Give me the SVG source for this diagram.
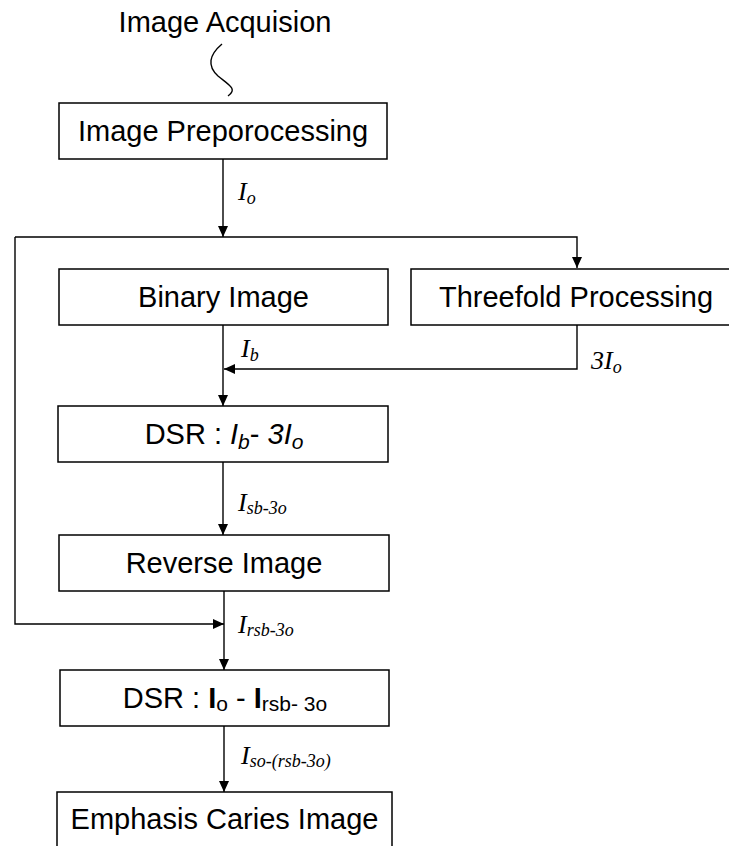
<svg xmlns="http://www.w3.org/2000/svg" width="729" height="846" viewBox="0 0 729 846">
<defs>
<style>
.box{fill:#fff;stroke:#000;stroke-width:1.5}
.t{font-family:"Liberation Sans",Arial,sans-serif;font-size:29px;fill:#000;text-anchor:middle}
.lab{font-family:"Liberation Serif","Times New Roman",serif;font-style:italic;font-size:26px;fill:#000}
.sub{font-size:18px}
.con{fill:none;stroke:#000;stroke-width:1.4}
</style>
<marker id="ah" markerUnits="userSpaceOnUse" markerWidth="11" markerHeight="10" refX="11" refY="5" orient="auto">
<path d="M0,0 L11,5 L0,10 z" fill="#000"/>
</marker>
</defs>
<rect width="729" height="846" fill="#fff"/>
<g id="acq">
<text class="t" x="225" y="32">Image Acquision</text>
<path class="con" d="M222,44 C209,55 207,66 218,76 C229,85 238,89 228,96"/>
</g>
<g id="connectors">
<path class="con" d="M223,159 V237" marker-end="url(#ah)"/>
<path class="con" d="M15,237 H577 V268" marker-end="url(#ah)"/>
<path class="con" d="M15,237 V624 H224" marker-end="url(#ah)"/>
<path class="con" d="M223,325 V406" marker-end="url(#ah)"/>
<path class="con" d="M577,325 V369 H224" marker-end="url(#ah)"/>
<path class="con" d="M223,462 V535" marker-end="url(#ah)"/>
<path class="con" d="M224,591 V670" marker-end="url(#ah)"/>
<path class="con" d="M224,726 V792" marker-end="url(#ah)"/>
<text class="lab" x="238" y="200">I<tspan class="sub" dy="4">o</tspan></text>
<text class="lab" x="241" y="357">I<tspan class="sub" dy="4">b</tspan></text>
<text class="lab" x="591" y="369">3I<tspan class="sub" dy="4">o</tspan></text>
<text class="lab" x="238" y="511">I<tspan class="sub" dy="3">sb-3o</tspan></text>
<text class="lab" x="238" y="633">I<tspan class="sub" dy="3">rsb-3o</tspan></text>
<text class="lab" x="241" y="764">I<tspan class="sub" dy="3">so-(rsb-3o)</tspan></text>
</g>
<g id="preprocessing">
<rect class="box" x="59" y="103" width="328" height="56"/>
<text class="t" x="223" y="141">Image Preporocessing</text>
</g>
<g id="binary">
<rect class="box" x="59" y="269" width="329" height="56"/>
<text class="t" x="223.5" y="307">Binary Image</text>
</g>
<g id="threefold">
<rect class="box" x="411" y="269" width="330" height="56"/>
<text class="t" x="576" y="307">Threefold Processing</text>
</g>
<g id="dsr1">
<rect class="box" x="58" y="406" width="330" height="56"/>
<text class="t" x="224" y="444">DSR : <tspan font-style="italic">I</tspan><tspan font-style="italic" font-size="21" dy="5">b</tspan><tspan dy="-5">- </tspan><tspan font-style="italic">3I</tspan><tspan font-style="italic" font-size="21" dy="5">o</tspan></text>
</g>
<g id="reverse">
<rect class="box" x="59" y="535" width="330" height="56"/>
<text class="t" x="224" y="573">Reverse Image</text>
</g>
<g id="dsr2">
<rect class="box" x="60" y="670" width="329" height="56"/>
<text class="t" x="225" y="708">DSR : <tspan font-weight="bold">I</tspan><tspan font-size="21" dy="3">o</tspan><tspan dy="-3"> - </tspan><tspan font-weight="bold">I</tspan><tspan font-size="21" dy="3">rsb-  3o</tspan></text>
</g>
<g id="emphasis">
<rect class="box" x="57" y="792" width="335" height="60"/>
<text class="t" x="224.5" y="829">Emphasis Caries Image</text>
</g>
</svg>
